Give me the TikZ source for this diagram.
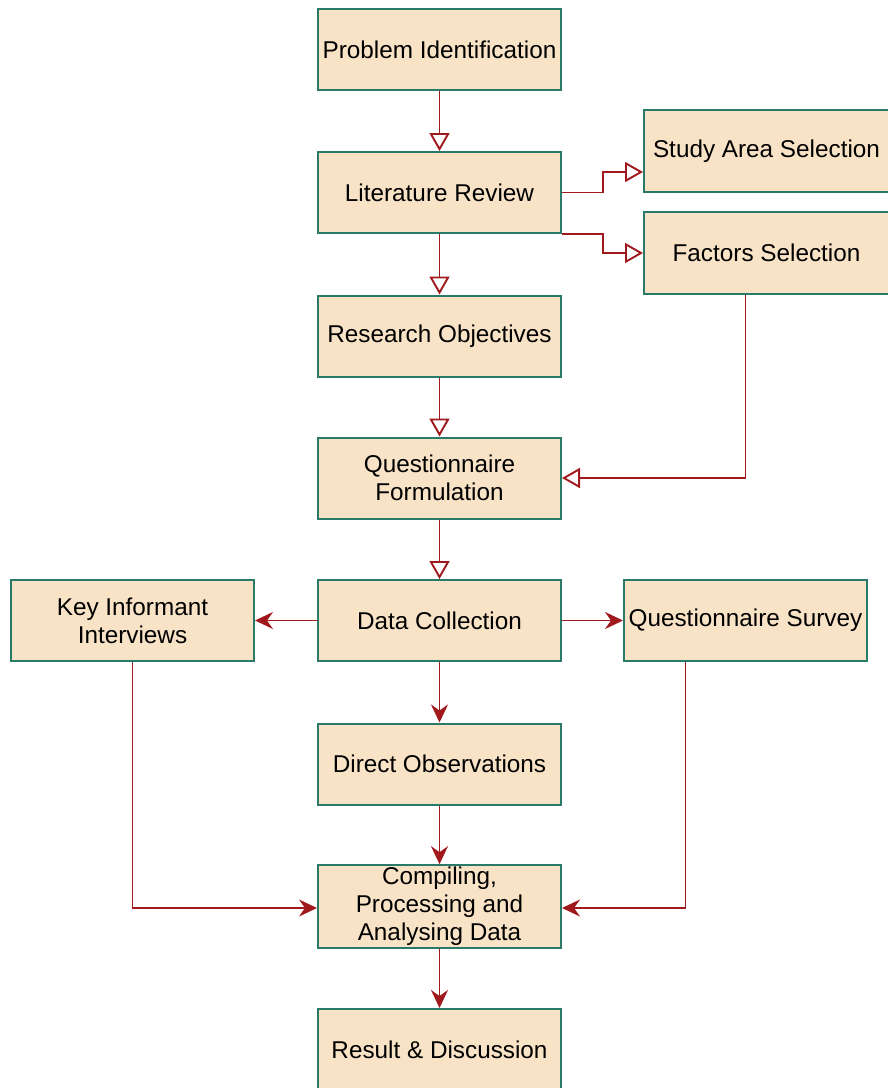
\documentclass[tikz,border=0pt]{standalone}
\usepackage{fontspec}
\setmainfont{Liberation Sans}
\usetikzlibrary{arrows.meta}
\definecolor{boxfill}{HTML}{F9E3C7}
\definecolor{boxline}{HTML}{2A7A6A}
\definecolor{arrowred}{HTML}{A0191C}
\tikzset{
  stage/.style={draw=boxline, fill=boxfill, line width=2pt, minimum width=243pt,
    minimum height=81pt, align=center, inner sep=2pt,
    font=\fontsize{24.3}{28}\selectfont},
  link/.style={draw=arrowred, line width=1.9pt},
  openlink/.style={link, -{Triangle[open, length=18pt, width=20pt, fill=white]}},
  fulllink/.style={link, -{Stealth[length=18pt, width=17pt, inset=6pt]}}
}
\begin{document}
\begin{tikzpicture}[x=1pt, y=-1pt]
  \useasboundingbox (0,0) rectangle (888,1088);
  \node[stage] (prob) at (439.5,49.5) {Problem Identification};
  \node[stage] (lit) at (439.5,192.5) {Literature Review};
  \node[stage] (obj) at (439.5,336) {Research Objectives};
  \node[stage] (qform) at (439.5,478) {Questionnaire\\Formulation};
  \node[stage] (data) at (439.5,620.5) {Data Collection};
  \node[stage] (obs) at (439.5,764) {Direct Observations};
  \node[stage] (comp) at (439.5,906.5) {Compiling,\\Processing and\\Analysing Data};
  \node[stage, minimum height=82pt] (res) at (439.5,1050) {Result \& Discussion};
  \node[stage, minimum width=245pt, minimum height=82pt] (study) at (766.5,151) {Study Area Selection};
  \node[stage, minimum width=245pt, minimum height=82pt] (factors) at (766.5,253) {Factors Selection};
  \node[stage] (kii) at (132.5,620.5) {Key Informant\\Interviews};
  \node[stage] (qsurv) at (745.5,620.5) {Questionnaire Survey};

  \draw[openlink] (prob) -- (lit);
  \draw[openlink] (lit) -- (obj);
  \draw[openlink] (obj) -- (qform);
  \draw[openlink] (qform) -- (data);
  \draw[openlink] (lit.east) -- ++(41,0) |- ([yshift=-21pt]study.west);
  \draw[openlink] (lit.south east) -- ++(41,0) |- (factors.west);
  \draw[openlink] ([xshift=-21pt]factors.south) |- (qform.east);

  \draw[fulllink] (data) -- (kii);
  \draw[fulllink] (data) -- (qsurv);
  \draw[fulllink] (data) -- (obs);
  \draw[fulllink] (obs) -- (comp);
  \draw[fulllink] (kii.south) |- ([yshift=-1.5pt]comp.west);
  \draw[fulllink] ([xshift=-60pt]qsurv.south) |- ([yshift=-1.5pt]comp.east);
  \draw[fulllink] (comp) -- (res);
\end{tikzpicture}
\end{document}
